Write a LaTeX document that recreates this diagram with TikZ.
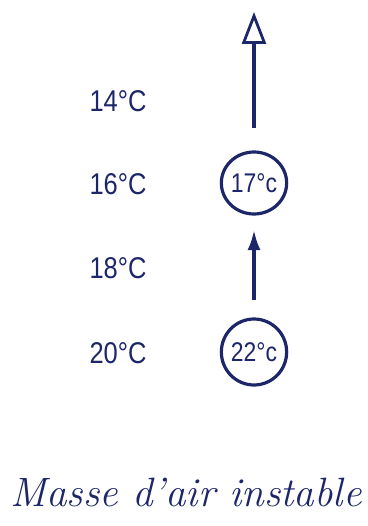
\documentclass[tikz,border=0pt]{standalone}
\usepackage{fontspec}
\setsansfont{Liberation Sans}
\newfontfamily\narrowsans[FakeStretch=0.85]{Liberation Sans}
\usetikzlibrary{arrows.meta,shapes.geometric}
\definecolor{ink}{RGB}{28,38,105}
\begin{document}
\begin{tikzpicture}[x=1pt,y=-1pt,
  lbl/.style={text=ink,font=\narrowsans\fontsize{30}{32}\selectfont,inner sep=0pt},
  parcel/.style={draw=ink,line width=3.2pt,ellipse,minimum width=60pt,minimum height=62pt,inner sep=0pt,text=ink,font=\narrowsans\fontsize{27}{30}\selectfont},
  conn/.style={draw=ink,line width=3.2pt}]
\useasboundingbox (0,0) rectangle (367,526);
\node[lbl] (t14) at (118,101) {14°C};
\node[lbl] (t16) at (118,184) {16°C};
\node[lbl] (t18) at (118,268) {18°C};
\node[lbl] (t20) at (118,353) {20°C};
\node[parcel] (p17) at (254,183) {17°c};
\node[parcel,minimum height=66pt] (p22) at (254,352) {22°c};
\coordinate (a1s) at (254,300);
\coordinate (a1e) at (254,230);
\coordinate (a2s) at (254,128);
\coordinate (a2e) at (254,12);
\draw[conn,-{Latex[length=20pt,width=13pt]}] (a1s) -- (a1e);
\draw[conn,-{Triangle[open,length=32pt,width=24pt,line width=2.8pt]}] (a2s) -- (a2e);
\node[text=ink,font=\itshape\fontsize{41}{46}\selectfont,inner sep=0pt] (title) at (186,492) {Masse d'air instable};
\end{tikzpicture}
\end{document}
